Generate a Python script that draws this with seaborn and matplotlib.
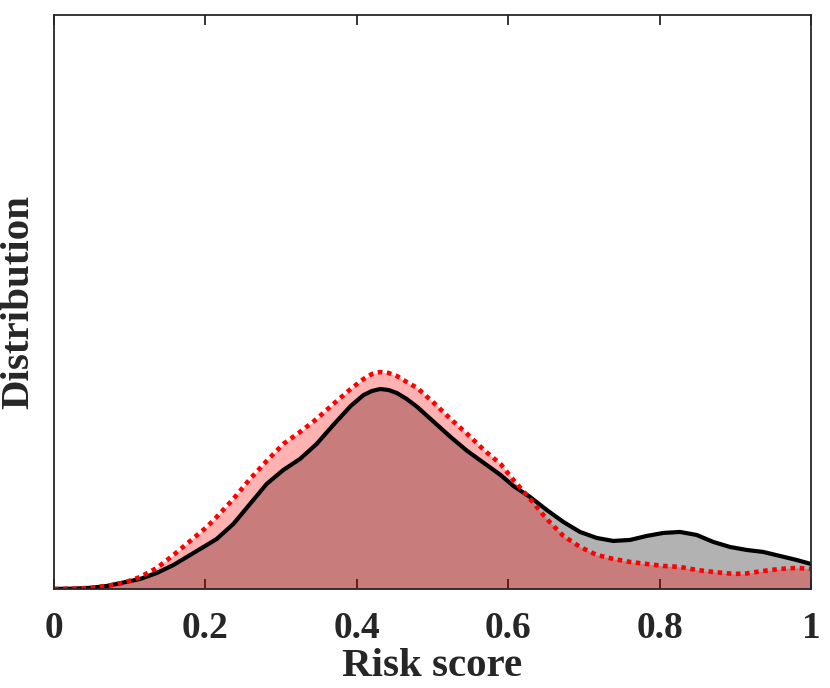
import numpy as np
import pandas as pd
import matplotlib
matplotlib.use("Agg")
import matplotlib.pyplot as plt
import seaborn as sns

# ---- data (density, arbitrary units) ----
black_x = [0.0, 0.026, 0.05, 0.07, 0.092, 0.114, 0.136, 0.158, 0.18, 0.202, 0.215, 0.237,
           0.259, 0.281, 0.303, 0.325, 0.347, 0.369, 0.392, 0.409, 0.42, 0.431, 0.442,
           0.453, 0.466, 0.48, 0.502, 0.524, 0.546, 0.568, 0.59, 0.607, 0.629, 0.651,
           0.673, 0.695, 0.717, 0.739, 0.761, 0.783, 0.805, 0.827, 0.849, 0.871, 0.893,
           0.915, 0.937, 0.959, 0.981, 1.0]
black_y = [0.0, 0.003, 0.012, 0.03, 0.065, 0.10, 0.16, 0.24, 0.34, 0.44, 0.50, 0.65,
           0.85, 1.05, 1.19, 1.30, 1.45, 1.64, 1.83, 1.94, 1.98, 2.00, 1.99,
           1.96, 1.90, 1.82, 1.67, 1.52, 1.38, 1.26, 1.14, 1.03, 0.92, 0.79,
           0.67, 0.57, 0.51, 0.48, 0.49, 0.53, 0.56, 0.57, 0.54, 0.47, 0.42,
           0.39, 0.37, 0.33, 0.29, 0.25]

red_x = [0.0, 0.026, 0.05, 0.07, 0.092, 0.114, 0.136, 0.158, 0.18, 0.202, 0.215, 0.237,
         0.259, 0.281, 0.303, 0.325, 0.347, 0.369, 0.392, 0.409, 0.42, 0.431, 0.442,
         0.453, 0.466, 0.48, 0.502, 0.524, 0.546, 0.568, 0.59, 0.607, 0.629, 0.651,
         0.673, 0.695, 0.717, 0.739, 0.761, 0.783, 0.805, 0.827, 0.849, 0.871, 0.898,
         0.915, 0.937, 0.959, 0.981, 1.0]
red_y = [0.0, 0.003, 0.012, 0.03, 0.06, 0.12, 0.21, 0.34, 0.48, 0.62, 0.72, 0.90,
         1.10, 1.28, 1.45, 1.57, 1.70, 1.85, 2.00, 2.10, 2.15, 2.17, 2.16,
         2.13, 2.07, 2.01, 1.86, 1.70, 1.55, 1.39, 1.25, 1.09, 0.90, 0.70,
         0.53, 0.42, 0.34, 0.30, 0.27, 0.25, 0.23, 0.22, 0.19, 0.17, 0.15,
         0.155, 0.18, 0.20, 0.21, 0.20]

x_ticks = [0, 0.2, 0.4, 0.6, 0.8, 1]
x_ticklabels = ["0", "0.2", "0.4", "0.6", "0.8", "1"]

sns.set_style("white")
plt.rcParams["font.family"] = ["Liberation Serif", "DejaVu Serif"]
plt.rcParams["font.weight"] = "bold"

fig = plt.figure(figsize=(8.3, 6.88), dpi=100)
ax = fig.add_axes([0.065, 0.144, 0.912, 0.834])

black = pd.DataFrame({"x": black_x, "y": black_y})
red = pd.DataFrame({"x": red_x, "y": red_y})

# black curve with grey fill
ax.fill_between(black["x"], black["y"], color="black", alpha=0.3, linewidth=0)
sns.lineplot(data=black, x="x", y="y", ax=ax, color="black", linewidth=3.0, sort=True)

# red dotted curve with pink fill on top
ax.fill_between(red["x"], red["y"], color="red", alpha=0.3, linewidth=0)
sns.lineplot(data=red, x="x", y="y", ax=ax, color="red", linewidth=3.3, sort=True)
ax.lines[-1].set_linestyle((0, (1.0, 1.0)))
ax.lines[-1].set_dash_capstyle("butt")

ax.set_xlim(0, 1)
ax.set_ylim(0, 5.74)
ax.set_xticks(x_ticks)
ax.set_xticklabels(x_ticklabels, fontsize=27, fontweight="bold")
ax.set_yticks([])
ax.tick_params(axis="x", direction="in", length=7, width=1.3, color="#262626",
               top=True, bottom=True, pad=16)
for s in ax.spines.values():
    s.set_visible(True)
    s.set_linewidth(1.3)
    s.set_color("#262626")

ax.set_xlabel("Risk score", fontsize=29.5, fontweight="bold", labelpad=1)
ax.set_ylabel("Distribution", fontsize=29.5, fontweight="bold", labelpad=12)

fig.savefig("out.png", dpi=100)
